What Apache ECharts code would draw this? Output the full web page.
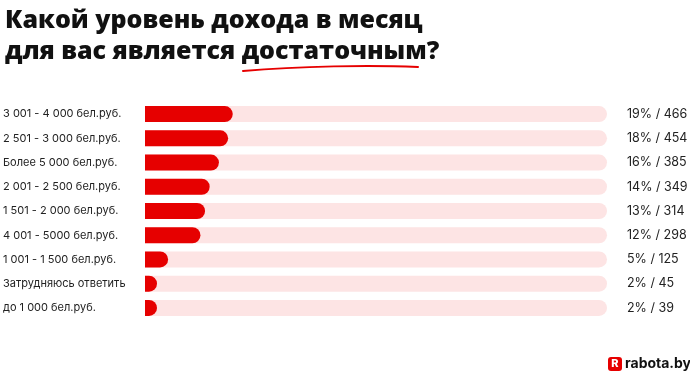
<!DOCTYPE html>
<html>
<head>
<meta charset="utf-8">
<script src="https://cdn.jsdelivr.net/npm/echarts@6/dist/echarts.min.js"></script>
<style>
html,body{margin:0;padding:0;background:#fff;}
#chart{width:690px;height:373px;}
</style>
</head>
<body>
<div id="chart"></div>
<script>
var categories = [
  '3 001 - 4 000 бел.руб.',
  '2 501 - 3 000 бел.руб.',
  'Более 5 000 бел.руб.',
  '2 001 - 2 500 бел.руб.',
  '1 501 - 2 000 бел.руб.',
  '4 001 - 5000 бел.руб.',
  '1 001 - 1 500 бел.руб.',
  'Затрудняюсь ответить',
  'до 1 000 бел.руб.'
];
var percents = [19, 18, 16, 14, 13, 12, 5, 2, 2];
var counts = [466, 454, 385, 349, 314, 298, 125, 45, 39];
var trackMax = 100;

var chart = echarts.init(document.getElementById('chart'));
var font = 'Inter, "Noto Sans", sans-serif';
var titleFont = '"Open Sans", "Noto Sans", sans-serif';
chart.setOption({
  backgroundColor: '#ffffff',
  animation: false,
  title: {
    left: 0,
    top: 0,
    text: 'Какой уровень дохода в месяц\nдля вас является {u|достаточным}?',
    textStyle: {
      fontFamily: titleFont,
      fontWeight: 800,
      fontSize: 25,
      lineHeight: 31,
      color: '#111111',
      rich: {
        u: { fontFamily: titleFont, fontWeight: 800, fontSize: 25, color: '#111111' }
      }
    }
  },
  grid: { left: 145, right: 83, top: 102, bottom: 53, containLabel: false },
  xAxis: { type: 'value', min: 0, max: trackMax, show: false },
  yAxis: {
    type: 'category',
    inverse: true,
    data: categories,
    axisLine: { show: false },
    axisTick: { show: false },
    axisLabel: {
      align: 'left',
      margin: 142,
      fontFamily: font,
      fontSize: 11,
      color: '#222222'
    }
  },
  series: [
    {
      type: 'bar',
      data: percents.map(function () { return trackMax; }),
      barWidth: 16,
      barGap: '-100%',
      silent: true,
      itemStyle: { color: '#fde4e4', borderRadius: [0, 8, 8, 0] },
      label: {
        show: true,
        position: 'right',
        distance: 20,
        fontFamily: font,
        fontSize: 12.5,
        color: '#222222',
        formatter: function (p) { return percents[p.dataIndex] + '% / ' + counts[p.dataIndex]; }
      },
      z: 1
    },
    {
      type: 'bar',
      data: percents,
      barWidth: 16,
      barMinHeight: 12,
      itemStyle: { color: '#e60000', borderRadius: [0, 8, 8, 0] },
      z: 2
    }
  ],
  graphic: [
    {
      type: 'bezierCurve',
      shape: { x1: 243, y1: 71, cpx1: 300, cpy1: 66, cpx2: 370, cpy2: 65, x2: 418, y2: 67 },
      style: { stroke: '#e60000', lineWidth: 2, fill: null, lineCap: 'round' }
    },
    {
      type: 'rect',
      shape: { x: 608, y: 357, width: 14, height: 14, r: 3 },
      style: { fill: '#e60000' }
    },
    {
      type: 'text',
      style: { x: 615, y: 364, text: 'R', align: 'center', verticalAlign: 'middle', fill: '#ffffff', font: '800 11px ' + font }
    },
    {
      type: 'text',
      style: { x: 625, y: 364, text: 'rabota.by', align: 'left', verticalAlign: 'middle', fill: '#111111', font: '700 14px ' + font }
    }
  ]
});
</script>
</body>
</html>
